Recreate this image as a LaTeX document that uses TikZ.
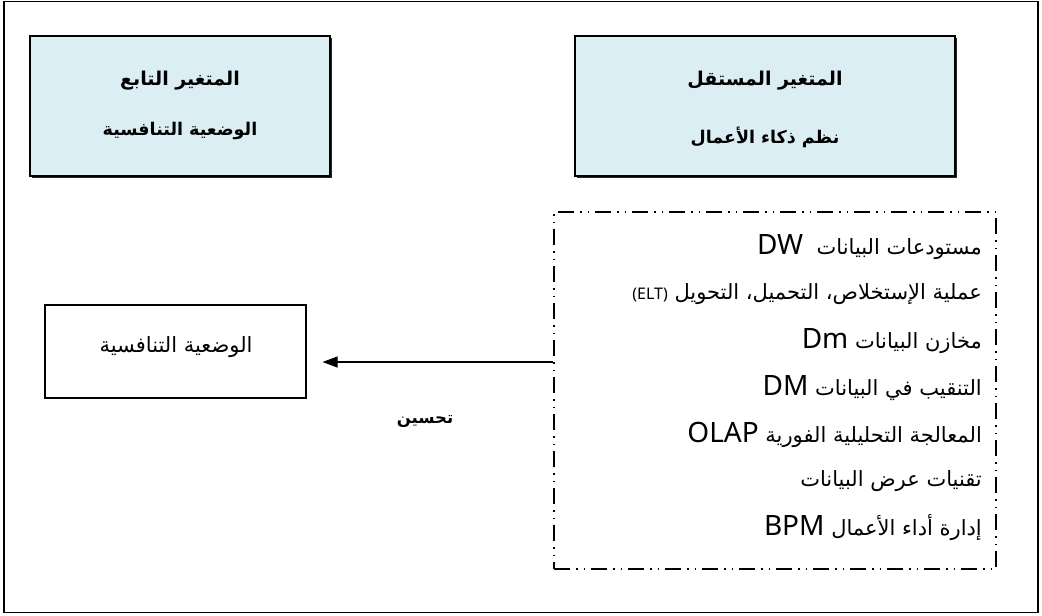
\documentclass[tikz,border=0pt]{standalone}
\usepackage{fontspec}
\usetikzlibrary{arrows.meta,shadows}
\TeXXeTstate=1
\newfontfamily\arabicfont[Script=Arabic]{DejaVu Sans}
\newfontfamily\latinfont{Noto Sans}
\definecolor{boxblue}{HTML}{DAEEF3}
\tikzset{
  frame/.style={draw, line width=1.2pt, inner sep=0pt},
  varbox/.style={draw, line width=1.3pt, fill=boxblue, inner sep=0pt,
    drop shadow={shadow xshift=2pt, shadow yshift=-2pt, fill=black!85, opacity=1}},
  dashbox/.style={draw, line width=1.3pt, inner sep=0pt,
    dash pattern=on 16pt off 6pt on 1.5pt off 6pt on 1.5pt off 6pt},
  plainbox/.style={draw, line width=1.1pt, inner sep=0pt},
  title/.style={font=\arabicfont\bfseries\fontsize{19}{22}\selectfont, inner sep=0pt},
  subtitle/.style={font=\arabicfont\bfseries\fontsize{17.5}{20}\selectfont, inner sep=0pt},
  item/.style={anchor=east, inner sep=0pt, font=\arabicfont\fontsize{21}{24}\selectfont},
  plaintext/.style={inner sep=0pt, font=\arabicfont\fontsize{21}{24}\selectfont},
  arr/.style={line width=1.1pt, -{Triangle[length=15pt,width=11pt]}, shorten >=16pt},
}
\newcommand{\LT}[1]{\beginL{\latinfont\fontsize{28}{30}\selectfont #1}\endL}
\begin{document}
\begin{tikzpicture}[x=1pt,y=-1pt]
\useasboundingbox (0,0) rectangle (1042,616);
\node[frame, minimum width=1034pt, minimum height=611pt] (outer) at (521,307) {};

\node[varbox, minimum width=300pt, minimum height=140pt] (dep) at (180,106) {};
\node[title] (deptitle) at (180,81) {\beginR المتغير التابع\endR};
\node[subtitle] (depsub) at (180,131) {\beginR الوضعية التنافسية\endR};

\node[varbox, minimum width=380pt, minimum height=140pt] (ind) at (765,106) {};
\node[title] (indtitle) at (765,81) {\beginR المتغير المستقل\endR};
\node[subtitle] (indsub) at (765,137) {\beginR نظم ذكاء الأعمال\endR};

\node[dashbox, minimum width=442pt, minimum height=357pt] (tools) at (775,390.5) {};
\node[item] (l1) at (982,247) {\beginR مستودعات البيانات \ \LT{DW}\endR};
\node[item] (l2) at (982,294) {\beginR عملية الإستخلاص، التحميل، التحويل \beginL{\latinfont\fontsize{16}{18}\selectfont (ELT)}\endL\endR};
\node[item] (l3) at (982,341) {\beginR مخازن البيانات \LT{Dm}\endR};
\node[item] (l4) at (982,388) {\beginR التنقيب في البيانات \LT{DM}\endR};
\node[item] (l5) at (982,435) {\beginR المعالجة التحليلية الفورية \LT{OLAP}\endR};
\node[item] (l6) at (982,481) {\beginR تقنيات عرض البيانات\endR};
\node[item] (l7) at (982,528) {\beginR إدارة أداء الأعمال \LT{BPM}\endR};

\node[plainbox, minimum width=261pt, minimum height=93pt] (pos) at (175.5,351.5) {};
\node[plaintext] (postext) at (176,347) {\beginR الوضعية التنافسية\endR};

\coordinate (arrlevel) at (0,362);
\draw[arr] (tools.west |- arrlevel) -- (pos.east |- arrlevel);
\node[subtitle, font=\arabicfont\bfseries\fontsize{16.5}{20}\selectfont] (improve) at (425,421) {\beginR تحسين\endR};
\end{tikzpicture}
\end{document}
